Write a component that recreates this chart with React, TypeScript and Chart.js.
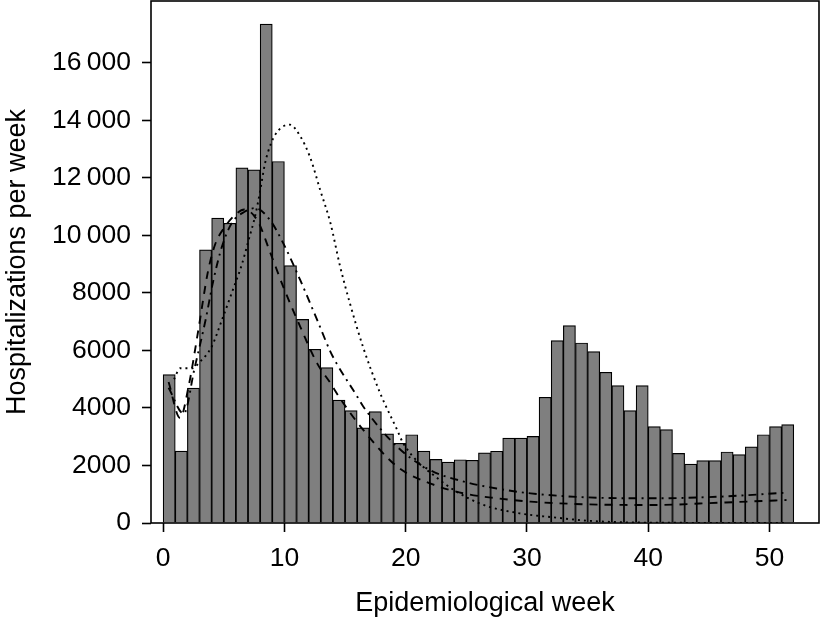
import React, { useEffect, useRef } from 'react';
import { Chart, registerables } from 'chart.js';

Chart.register(...registerables);

// Epidemiological weeks (bars cover [week-1, week])
const weeks = [
  1, 2, 3, 4, 5, 6, 7, 8, 9, 10, 11, 12, 13, 14, 15, 16, 17, 18, 19, 20, 21, 22, 23, 24, 25, 26,
  27, 28, 29, 30, 31, 32, 33, 34, 35, 36, 37, 38, 39, 40, 41, 42, 43, 44, 45, 46, 47, 48, 49, 50, 51, 52,
];
const hospitalizations = [
  5160, 2500, 4690, 9500, 10600, 10420, 12350, 12280, 17350, 12570, 8950, 7080, 6040, 5400, 4270, 3910,
  3310, 3870, 3100, 2770, 3070, 2500, 2210, 2120, 2200, 2180, 2440, 2495, 2950, 2950, 3010, 4370,
  6340, 6860, 6260, 5960, 5240, 4780, 3910, 4780, 3350, 3250, 2420, 2050, 2170, 2170, 2470, 2380,
  2650, 3070, 3350, 3420,
];

// Model curve 1 (dashed)
const dashedWeeks = [0.45, 1.4, 2.1, 2.9, 3.7, 4.3, 5.1, 5.9, 6.7, 7.8, 8.8, 9.9, 11.3, 12.7, 13.8, 14.5, 16.5, 19.3, 22, 24.8, 27.5, 30.3, 34.9, 40.4, 45.9, 51.4];
const dashedValues = [4900, 3650, 4750, 6700, 8750, 9700, 10300, 10700, 10900, 10500, 9440, 8220, 6830, 5550, 4860, 4390, 3235, 1960, 1380, 1030, 860, 742, 650, 626, 707, 800];

// Model curve 2 (dash-dot)
const dashDotWeeks = [0.45, 1.7, 2.6, 3.5, 4.15, 4.85, 5.65, 6.75, 7.6, 8.8, 9.9, 11.3, 12.7, 13.8, 14.3, 16.0, 16.5, 19.3, 22, 24.8, 27.5, 30.3, 34.9, 40.4, 45.9, 51.4];
const dashDotValues = [4700, 3800, 5400, 7060, 8450, 9610, 10420, 10830, 10950, 10540, 9730, 8450, 7060, 5950, 5550, 4400, 4050, 2650, 1840, 1440, 1200, 1030, 893, 858, 916, 1055];

// Model curve 3 (dotted)
const dottedWeeks = [0.9, 1.4, 2.4, 3.05, 4.0, 4.85, 5.65, 6.5, 7.05, 7.6, 8.0, 8.4, 8.9, 9.5, 10.45, 11.3, 12.1, 12.95, 13.8, 14.6, 15.4, 16.5, 17.9, 19.3, 19.8, 22.8, 26.1, 29.4, 32.2, 34.9, 38, 42, 47, 51.5];
const dottedValues = [5000, 5380, 5380, 5610, 6130, 7060, 7990, 9000, 9840, 10700, 11550, 12500, 13200, 13650, 13850, 13450, 12740, 11580, 10420, 8910, 7640, 6100, 4510, 3235, 2770, 1500, 680, 336, 197, 81, 25, 8, 2, 0];

const xTicks = [0, 10, 20, 30, 40, 50];
const yTicks = [0, 2000, 4000, 6000, 8000, 10000, 12000, 14000, 16000];

const FONT = "'Liberation Sans', Arial, Helvetica, sans-serif";

function fmt(v: number): string {
  const s = String(v);
  if (v < 10000) return s;
  return s.replace(/\B(?=(\d{3})+(?!\d))/g, '\u2009');
}

const boxPlugin = {
  id: 'boxPlugin',
  afterDraw(chart: any) {
    const { ctx, chartArea } = chart;
    ctx.save();
    ctx.strokeStyle = '#000';
    ctx.lineWidth = 1.6;
    ctx.strokeRect(chartArea.left, chartArea.top, chartArea.right - chartArea.left, chartArea.bottom - chartArea.top);
    ctx.restore();
  },
};

export default function App() {
  const ref = useRef<HTMLCanvasElement | null>(null);

  useEffect(() => {
    if (!ref.current) return;
    const pts = (xs: number[], ys: number[]) => xs.map((x, i) => ({ x, y: ys[i] }));
    const lineDs = (label: string, xs: number[], ys: number[], dash: number[]) => ({
      type: 'line' as const,
      label,
      data: pts(xs, ys),
      borderColor: '#000',
      borderWidth: 1.9,
      borderDash: dash,
      pointRadius: 0,
      fill: false,
      cubicInterpolationMode: 'monotone' as const,
      order: 0,
    });

    const chart = new Chart(ref.current, {
      type: 'bar',
      data: {
        datasets: [
          {
            type: 'bar',
            label: 'Hospitalizations',
            data: weeks.map((w, i) => ({ x: w - 0.5, y: hospitalizations[i] })),
            backgroundColor: '#7f7f7f',
            borderColor: '#000',
            borderWidth: 1.2,
            barPercentage: 1,
            categoryPercentage: 1,
            order: 1,
          } as any,
          lineDs('Model A', dashedWeeks, dashedValues, [8, 7]),
          lineDs('Model B', dashDotWeeks, dashDotValues, [8, 5, 2, 5]),
          lineDs('Model C', dottedWeeks, dottedValues, [2, 4]),
        ],
      },
      options: {
        animation: false,
        responsive: false,
        maintainAspectRatio: false,
        events: [],
        layout: { padding: { left: 0, top: 1, right: 2, bottom: 0 } },
        plugins: {
          legend: { display: false },
          tooltip: { enabled: false },
        },
        scales: {
          x: {
            type: 'linear',
            min: -1,
            max: 54.08,
            offset: false,
            afterFit: (s: any) => {
              s.height = 94;
              s.paddingLeft = 0;
              s.paddingRight = 0;
              s.paddingTop = 0;
              s.paddingBottom = 0;
            },
            afterBuildTicks: (s: any) => {
              s.ticks = xTicks.map((v) => ({ value: v }));
            },
            border: { display: false },
            grid: {
              offset: false,
              drawOnChartArea: false,
              drawTicks: true,
              tickLength: 9,
              tickColor: '#000',
              tickWidth: 1.6,
              color: '#000',
            },
            ticks: {
              color: '#000',
              font: { family: FONT, size: 26.5 },
              padding: 11,
              maxRotation: 0,
              autoSkip: false,
            },
            title: {
              display: true,
              text: 'Epidemiological week',
              color: '#000',
              font: { family: FONT, size: 27, lineHeight: 1 },
              padding: { top: 0, bottom: 0 },
            },
          },
          y: {
            type: 'linear',
            min: 0,
            max: 18150,
            afterFit: (s: any) => {
              s.width = 151;
              s.paddingLeft = 0;
              s.paddingRight = 0;
              s.paddingTop = 0;
              s.paddingBottom = 0;
            },
            afterBuildTicks: (s: any) => {
              s.ticks = yTicks.map((v) => ({ value: v }));
            },
            border: { display: false },
            grid: {
              drawOnChartArea: false,
              drawTicks: true,
              tickLength: 9,
              tickColor: '#000',
              tickWidth: 1.6,
              color: '#000',
            },
            ticks: {
              color: '#000',
              font: { family: FONT, size: 26.5 },
              padding: 11,
              autoSkip: false,
              callback: (v: any) => fmt(Number(v)),
            },
            title: {
              display: true,
              text: 'Hospitalizations per week',
              color: '#000',
              font: { family: FONT, size: 27, lineHeight: 1 },
              padding: { top: 4, bottom: 0 },
            },
          },
        },
      } as any,
      plugins: [boxPlugin],
    });

    return () => chart.destroy();
  }, []);

  return (
    <div style={{ position: 'absolute', left: 0, top: 0, width: 821, height: 617, background: '#fff' }}>
      <canvas ref={ref} width={821} height={617} style={{ width: 821, height: 617, display: 'block' }} />
    </div>
  );
}
